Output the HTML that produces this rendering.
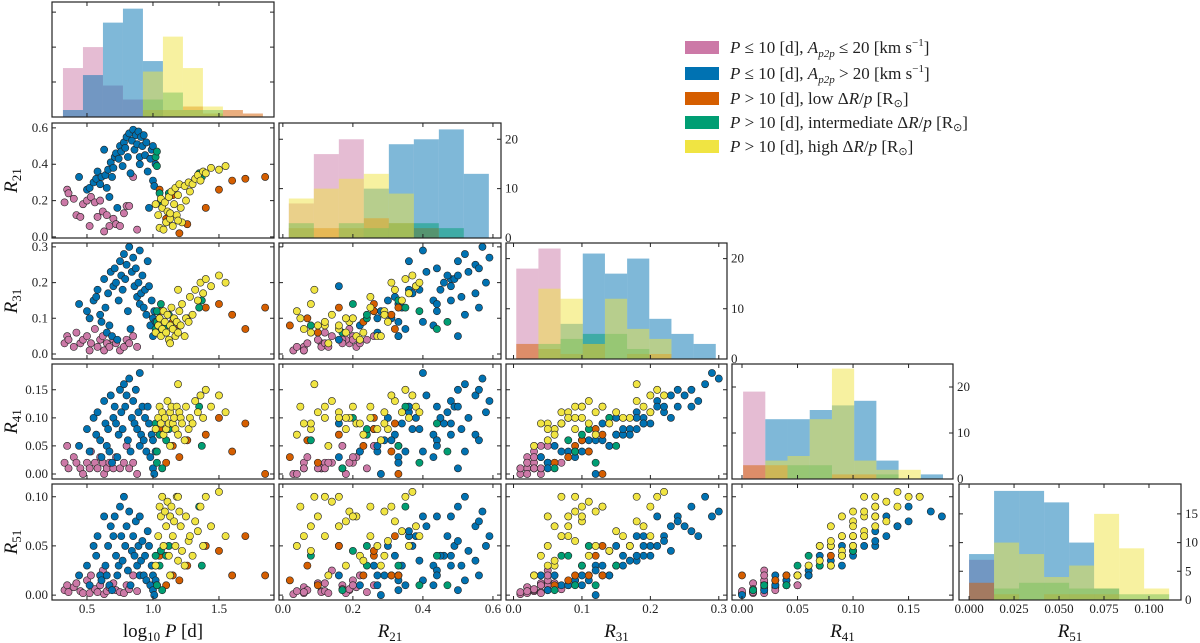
<!DOCTYPE html>
<html><head><meta charset="utf-8"><style>
body{margin:0;background:#fff}
svg{display:block;font-family:"Liberation Serif",serif}
.tl{font-size:13px;fill:#222}
.at{font-size:19px;font-style:italic;fill:#111}
.lg{font-size:17px;fill:#222}
</style></head><body>
<svg id="chart" width="1200" height="643" viewBox="0 0 1200 643" xmlns="http://www.w3.org/2000/svg">
<g id="legend">
<g><rect x="685" y="41" width="34" height="13" fill="#cc79a7"/><text class="lg" x="730" y="53"><tspan font-style="italic">P</tspan> ≤ 10 [d],  <tspan font-style="italic">A</tspan><tspan font-style="italic" font-size="11" dy="4">p2p</tspan><tspan dy="-4"> ≤ 20 [km s</tspan><tspan font-size="11" dy="-7">−1</tspan><tspan dy="7">]</tspan></text></g>
<g><rect x="685" y="67" width="34" height="13" fill="#0072b2"/><text class="lg" x="730" y="79"><tspan font-style="italic">P</tspan> ≤ 10 [d],  <tspan font-style="italic">A</tspan><tspan font-style="italic" font-size="11" dy="4">p2p</tspan><tspan dy="-4"> &gt; 20 [km s</tspan><tspan font-size="11" dy="-7">−1</tspan><tspan dy="7">]</tspan></text></g>
<g><rect x="685" y="92" width="34" height="13" fill="#d55e00"/><text class="lg" x="730" y="104"><tspan font-style="italic">P</tspan> &gt; 10 [d],  low Δ<tspan font-style="italic">R</tspan>/<tspan font-style="italic">p</tspan> [R<tspan font-size="11" dy="3">⊙</tspan><tspan dy="-3">]</tspan></text></g>
<g><rect x="685" y="116" width="34" height="13" fill="#009e73"/><text class="lg" x="730" y="128"><tspan font-style="italic">P</tspan> &gt; 10 [d],  intermediate Δ<tspan font-style="italic">R</tspan>/<tspan font-style="italic">p</tspan> [R<tspan font-size="11" dy="3">⊙</tspan><tspan dy="-3">]</tspan></text></g>
<g><rect x="685" y="140" width="34" height="13" fill="#f0e442"/><text class="lg" x="730" y="152"><tspan font-style="italic">P</tspan> &gt; 10 [d],  high Δ<tspan font-style="italic">R</tspan>/<tspan font-style="italic">p</tspan> [R<tspan font-size="11" dy="3">⊙</tspan><tspan dy="-3">]</tspan></text></g>
</g>
</svg>
<script>
// ---- data: each star = [log10P, R21, R31, R41, R51]
const pinkStars=[[0.33,0.19,0.03,0.02,0.005],[0.35,0.26,0.05,0.05,0.01],[0.36,0.24,0.04,0.01,0.003],[0.40,0.21,0.02,0.03,0.008],[0.42,0.12,0.06,0.02,0.012],[0.45,0.11,0.03,0.01,0.004],[0.47,0.18,0.04,0.00,0.002],[0.50,0.20,0.05,0.02,0.015],[0.52,0.06,0.01,0.01,0.002],[0.53,0.22,0.03,0.04,0.02],[0.56,0.19,0.07,0.02,0.006],[0.58,0.11,0.02,0.01,0.003],[0.60,0.20,0.04,0.03,0.01],[0.62,0.14,0.05,0.02,0.025],[0.63,0.03,0.01,0.00,0.001],[0.65,0.12,0.03,0.01,0.004],[0.67,0.06,0.02,0.02,0.008],[0.70,0.10,0.04,0.01,0.012],[0.72,0.07,0.03,0.03,0.005],[0.75,0.06,0.01,0.01,0.003],[0.78,0.13,0.02,0.02,0.002],[0.80,0.17,0.04,0.05,0.01],[0.82,0.17,0.03,0.01,0.006],[0.85,0.33,0.05,0.02,0.02],[0.88,0.04,0.02,0.00,0.004]];
const blueStars=[[0.44,0.33,0.14,0.05,0.02],[0.50,0.26,0.12,0.08,0.03],[0.52,0.27,0.10,0.04,0.01],[0.55,0.30,0.15,0.10,0.05],[0.57,0.32,0.16,0.07,0.04],[0.58,0.36,0.18,0.11,0.06],[0.60,0.29,0.11,0.06,0.02],[0.61,0.33,0.09,0.03,0.015],[0.63,0.48,0.21,0.13,0.08],[0.64,0.34,0.13,0.09,0.03],[0.65,0.27,0.06,0.05,0.02],[0.66,0.37,0.17,0.08,0.05],[0.67,0.22,0.08,0.04,0.01],[0.68,0.41,0.23,0.14,0.07],[0.69,0.33,0.05,0.02,0.005],[0.70,0.38,0.19,0.10,0.06],[0.71,0.44,0.24,0.12,0.08],[0.72,0.46,0.20,0.09,0.04],[0.73,0.16,0.04,0.03,0.02],[0.74,0.43,0.15,0.07,0.03],[0.75,0.50,0.26,0.15,0.09],[0.76,0.47,0.22,0.11,0.06],[0.77,0.39,0.18,0.08,0.035],[0.78,0.52,0.28,0.16,0.1],[0.79,0.49,0.21,0.12,0.05],[0.80,0.55,0.25,0.14,0.07],[0.81,0.44,0.12,0.06,0.025],[0.82,0.57,0.30,0.17,0.085],[0.83,0.35,0.07,0.04,0.01],[0.84,0.53,0.23,0.10,0.045],[0.85,0.59,0.27,0.13,0.06],[0.86,0.48,0.19,0.09,0.04],[0.87,0.56,0.24,0.15,0.075],[0.88,0.51,0.16,0.08,0.03],[0.89,0.58,0.20,0.11,0.05],[0.90,0.44,0.14,0.05,0.02],[0.91,0.55,0.17,0.07,0.035],[0.92,0.50,0.22,0.12,0.055],[0.93,0.56,0.13,0.06,0.02],[0.94,0.45,0.18,0.10,0.04],[0.95,0.52,0.11,0.04,0.015],[0.97,0.16,0.19,0.09,0.05],[0.98,0.43,0.08,0.03,0.01],[0.99,0.48,0.15,0.07,0.03],[1.00,0.31,0.10,0.06,0.02],[1.00,0.50,0.05,0.01,0.005],[1.01,0.28,0.12,0.00,0.00],[1.02,0.40,0.09,0.04,0.015],[0.96,0.36,0.26,0.12,0.065],[0.90,0.40,0.29,0.18,0.08]];
const orangeStars=[[1.05,0.26,0.12,0.08,0.04],[1.10,0.10,0.06,0.02,0.01],[1.15,0.23,0.09,0.05,0.02],[1.20,0.02,0.08,0.03,0.015],[1.26,0.07,0.10,0.06,0.03],[1.40,0.16,0.13,0.07,0.05],[1.50,0.26,0.14,0.10,0.045],[1.60,0.31,0.11,0.04,0.02],[1.70,0.32,0.07,0.09,0.06],[1.85,0.33,0.13,0.00,0.02]];
const greenStars=[[1.02,0.44,0.07,0.09,0.04],[1.03,0.47,0.09,0.04,0.01],[1.03,0.39,0.12,0.02,0.01],[1.05,0.24,0.10,0.07,0.03],[1.06,0.20,0.14,0.10,0.045],[1.07,0.17,0.06,0.01,0.005],[1.10,0.08,0.08,0.06,0.04],[1.12,0.24,0.11,0.08,0.05],[1.35,0.35,0.13,0.12,0.09],[1.37,0.33,0.15,0.05,0.03]];
const yellowStars=[[1.02,0.18,0.06,0.08,0.03],[1.04,0.12,0.08,0.10,0.06],[1.05,0.05,0.10,0.12,0.09],[1.06,0.21,0.05,0.09,0.08],[1.07,0.16,0.07,0.11,0.10],[1.08,0.04,0.12,0.07,0.05],[1.09,0.19,0.09,0.10,0.085],[1.10,0.08,0.06,0.08,0.07],[1.11,0.14,0.11,0.13,0.095],[1.12,0.22,0.04,0.09,0.04],[1.13,0.10,0.08,0.11,0.08],[1.14,0.25,0.13,0.12,0.09],[1.15,0.06,0.07,0.09,0.06],[1.16,0.18,0.10,0.10,0.075],[1.17,0.27,0.05,0.08,0.05],[1.18,0.12,0.09,0.12,0.10],[1.19,0.23,0.06,0.07,0.035],[1.20,0.29,0.12,0.11,0.085],[1.21,0.16,0.08,0.10,0.07],[1.22,0.08,0.14,0.09,0.045],[1.24,0.28,0.05,0.06,0.03],[1.25,0.20,0.10,0.12,0.08],[1.27,0.30,0.09,0.08,0.055],[1.28,0.25,0.16,0.10,0.06],[1.30,0.29,0.11,0.09,0.04],[1.32,0.32,0.18,0.13,0.075],[1.34,0.34,0.15,0.11,0.065],[1.36,0.31,0.20,0.14,0.09],[1.38,0.36,0.17,0.10,0.05],[1.40,0.35,0.21,0.15,0.10],[1.44,0.38,0.19,0.12,0.07],[1.50,0.37,0.22,0.14,0.105],[1.55,0.39,0.20,0.11,0.06],[1.13,0.13,0.03,0.05,0.02],[1.19,0.09,0.18,0.16,0.10]];
// histogram bins (start, width) and counts per group
const histStart=[0.318,0.0171,0.004,0.001,0.0];
const histWidth=[0.1515,0.0714,0.0324,0.02,0.0139];
const histPink=[[14,20,9,5,0,0,0,0,0,0],[7,17,20,0,0,0,0,0],[18,22,0,0,0,0,0,0,0],[19,0,0,0,0,0,0,0,0],[7,0,0,0,0,0,0,0]];
const histBlue=[[2,12,27,31,16,0,0,0,0,0],[0,0,0,10,19,20,22,13],[0,0,7,21,17,20,8,5,3],[0,13,13,15,16,17,4,0,1],[8,19,19,17,10,2,0,0]];
const histOrange=[[0,0,0,0,2,2,3,1,2,1],[2,2,2,4,3,2,0,0],[3,2,1,3,0,1,1,0,0],[3,3,0,0,1,1,0,0,0],[3,1,0,1,1,1,0,0]];
const histGreen=[[0,0,0,0,5,7,2,2,0,0],[3,0,3,2,3,3,2,0],[0,3,4,5,5,2,0,0,0],[0,0,3,3,0,0,1,0,0],[0,2,3,3,2,2,1,1]];
const histYellow=[[0,0,0,0,13,23,14,3,0,0],[8,10,12,13,9,0,0,0],[0,14,12,3,12,6,4,0,0],[0,4,5,13,24,4,2,2,0],[0,10,8,4,6,15,9,2]];
const countMax=[32.9,23.3,23.1,25,20.2];
const countTicks=[[0,10,20,30],[0,10,20],[0,10,20],[0,10,20],[0,5,10,15]];
const varTicks=[[0.5,1.0,1.5],[0,0.2,0.4,0.6],[0,0.1,0.2,0.3],[0,0.05,0.1,0.15],[0,0.025,0.05,0.075,0.1]];
const varTickLabels=[["0.5","1.0","1.5"],["0.0","0.2","0.4","0.6"],["0.0","0.1","0.2","0.3"],["0.00","0.05","0.10","0.15"],["0.000","0.025","0.050","0.075","0.100"]];
const rowTicks=[null,[0,0.2,0.4,0.6],[0,0.1,0.2,0.3],[0,0.05,0.1,0.15],[0,0.05,0.1]];
const rowTickLabels=[null,["0.0","0.2","0.4","0.6"],["0.0","0.1","0.2","0.3"],["0.00","0.05","0.10","0.15"],["0.00","0.05","0.10"]];
const varDomX=[[0.235,1.917],[-0.011,0.623],[-0.011,0.312],[-0.009,0.190],[-0.0056,0.1178]];
const varDomY=[null,[-0.006,0.627],[-0.014,0.311],[-0.009,0.196],[-0.005,0.113]];
const varNames=["log10P","R21","R31","R41","R51"];

const colPx=[[52,274],[279,501],[506,727],[732,953],[959,1181]];
const rowPx=[[2,117],[123,238],[243,359],[364,479],[484,600]];
const colors={pink:"#cc79a7",blue:"#0072b2",orange:"#d55e00",green:"#009e73",yellow:"#f0e442"};
const NS="http://www.w3.org/2000/svg";
const svg=document.getElementById('chart');
const legend=document.getElementById('legend');
function mk(tag,attrs,parent){const e=document.createElementNS(NS,tag);for(const k in attrs)e.setAttribute(k,attrs[k]);(parent||svg).insertBefore(e,legend);return e;}
function sx(c,v){const d=varDomX[c],p=colPx[c];return p[0]+(v-d[0])/(d[1]-d[0])*(p[1]-p[0]);}
function sy(r,v){const d=varDomY[r],p=rowPx[r];return p[1]-(v-d[0])/(d[1]-d[0])*(p[1]-p[0]);}
function sc(r,v){const p=rowPx[r];return p[1]-v/countMax[r]*(p[1]-p[0]);}

const groups=[["pink",pinkStars,histPink],["blue",blueStars,histBlue],["orange",orangeStars,histOrange],["green",greenStars,histGreen],["yellow",yellowStars,histYellow]];

for(let r=0;r<5;r++){for(let c=0;c<=r;c++){
  const g=document.createElementNS(NS,'g');svg.insertBefore(g,legend);
  
  
  const x0=colPx[c][0],x1=colPx[c][1],y0=rowPx[r][0],y1=rowPx[r][1];
  if(r===c){
    groups.forEach(([name,,h])=>{
      h[r].forEach((cnt,i)=>{ if(cnt<=0)return;
        const a=sx(c,histStart[r]+i*histWidth[r]),b=sx(c,histStart[r]+(i+1)*histWidth[r]);
        const y=sc(r,cnt);
        const rc=document.createElementNS(NS,'rect');
        rc.setAttribute('x',a);rc.setAttribute('y',y);rc.setAttribute('width',b-a);rc.setAttribute('height',y1-y);
        rc.setAttribute('fill',colors[name]);rc.setAttribute('fill-opacity','0.5');
        
        
        g.appendChild(rc);
      });
    });
  } else {
    groups.forEach(([name,stars])=>{
      stars.forEach(s=>{
        const ci=document.createElementNS(NS,'circle');
        ci.setAttribute('cx',sx(c,s[c]));ci.setAttribute('cy',sy(r,s[r]));ci.setAttribute('r',3.6);
        ci.setAttribute('fill',colors[name]);ci.setAttribute('stroke','#222');ci.setAttribute('stroke-width','0.6');
        
        
        g.appendChild(ci);
      });
    });
  }
  const fr=document.createElementNS(NS,'rect');
  fr.setAttribute('x',x0);fr.setAttribute('y',y0);fr.setAttribute('width',x1-x0);fr.setAttribute('height',y1-y0);
  fr.setAttribute('fill','none');fr.setAttribute('stroke','#222');fr.setAttribute('stroke-width','1.2');
  
  
  g.appendChild(fr);
  let path='';
  varTicks[c].forEach(v=>{const x=sx(c,v);path+=`M${x},${y1}v-4M${x},${y0}v4`;});
  if(r===c){countTicks[r].forEach(v=>{const y=sc(r,v);path+=`M${x0},${y}h4M${x1},${y}h-4`;});}
  else{rowTicks[r].forEach(v=>{const y=sy(r,v);path+=`M${x0},${y}h4M${x1},${y}h-4`;});}
  const tk=document.createElementNS(NS,'path');tk.setAttribute('d',path);tk.setAttribute('stroke','#222');tk.setAttribute('stroke-width','1');
  
  
  g.appendChild(tk);
  if(c===0&&r>0){rowTicks[r].forEach((v,i)=>{
    const t=document.createElementNS(NS,'text');t.setAttribute('class','tl');t.setAttribute('x',x0-4);t.setAttribute('y',sy(r,v)+4);t.setAttribute('text-anchor','end');
    t.textContent=rowTickLabels[r][i];
    
    
    g.appendChild(t);});}
  if(r===c&&r>0){countTicks[r].forEach(v=>{
    const t=document.createElementNS(NS,'text');t.setAttribute('class','tl');t.setAttribute('x',x1+4);t.setAttribute('y',sc(r,v)+4);
    t.textContent=String(v);
    
    
    g.appendChild(t);});}
  if(r===4){varTicks[c].forEach((v,i)=>{
    const t=document.createElementNS(NS,'text');t.setAttribute('class','tl');t.setAttribute('x',sx(c,v));t.setAttribute('y',613);t.setAttribute('text-anchor','middle');
    t.textContent=varTickLabels[c][i];
    
    
    g.appendChild(t);});}
}}
function title(x,y,html,rot,name){const t=mk('text',{class:'at',x:x,y:y,'text-anchor':'middle'});if(rot)t.setAttribute('transform',`rotate(-90 ${x} ${y})`);t.innerHTML=html;
  
  }
title(163,637,'<tspan font-style="normal">log</tspan><tspan font-style="normal" font-size="13" dy="4">10</tspan><tspan dy="-4"> P </tspan><tspan font-style="normal">[d]</tspan>',false,'x-axis-title-logp');
const sub=["21","31","41","51"];
for(let i=0;i<4;i++){
  title((colPx[i+1][0]+colPx[i+1][1])/2,637,`R<tspan font-style="normal" font-size="13" dy="4">${sub[i]}</tspan>`,false,'x-axis-title-r'+sub[i]);
  title(17,(rowPx[i+1][0]+rowPx[i+1][1])/2,`R<tspan font-style="normal" font-size="13" dy="4">${sub[i]}</tspan>`,true,'y-axis-title-r'+sub[i]);
}
</script>
</body></html>
